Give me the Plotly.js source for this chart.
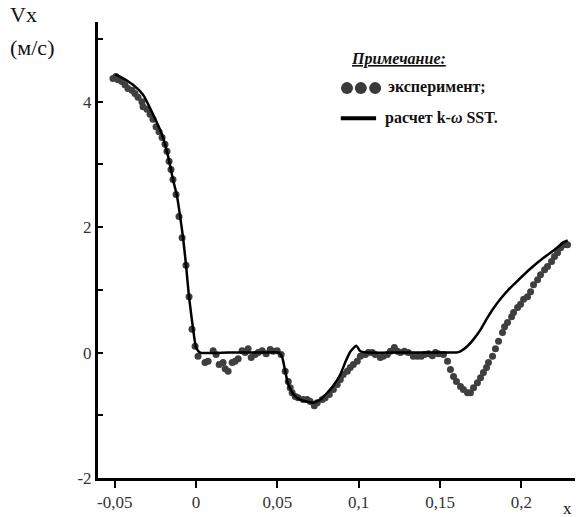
<!DOCTYPE html>
<html>
<head>
<meta charset="utf-8">
<script src="https://cdn.plot.ly/plotly-3.0.1.min.js"></script>
<style>html,body{margin:0;padding:0;background:#fff}#chart{width:577px;height:517px}</style>
</head>
<body>
<div id="chart"></div>
<script>
// Experimental points
const expX = [-0.0511,-0.0493,-0.0480,-0.0456,-0.0437,-0.0419,-0.0394,-0.0376,-0.0357,-0.0333,-0.0326,-0.0302,-0.0283,-0.0265,-0.0246,-0.0228,-0.0209,-0.0191,-0.0179,-0.0166,-0.0154,-0.0142,-0.0123,-0.0105,-0.0086,-0.0062,-0.0043,-0.0025,-0.0006,0.0012,
0.0055,0.0074,0.0105,0.0123,0.0142,0.0166,0.0179,0.0197,0.0222,0.0240,0.0259,0.0283,0.0302,0.0320,0.0339,0.0363,0.0382,0.0406,0.0431,0.0456,0.0474,0.0499,0.0523,
0.0548,0.0567,0.0579,0.0591,0.0610,0.0628,0.0659,0.0683,0.0702,0.0727,0.0745,0.0776,0.0794,0.0819,0.0844,0.0868,0.0887,0.0905,0.0930,0.0948,0.0967,0.0991,0.1010,0.1041,0.1059,
0.1084,0.1102,0.1133,0.1151,0.1176,0.1195,0.1219,0.1238,0.1256,0.1281,0.1305,0.1336,0.1361,0.1385,0.1404,0.1429,0.1453,0.1472,0.1490,0.1521,
0.1546,0.1564,0.1583,0.1601,0.1626,0.1644,0.1669,0.1687,0.1706,0.1730,0.1749,0.1767,0.1786,0.1798,0.1823,0.1841,0.1860,0.1884,0.1897,0.1915,0.1940,0.1952,0.1977,0.1995,0.2014,0.2038,0.2057,0.2075,0.2100,0.2118,0.2143,0.2161,0.2186,0.2204,0.2223,0.2241,0.2260,0.2284];
const expY = [4.37,4.40,4.35,4.32,4.27,4.21,4.18,4.13,4.07,4.00,3.92,3.88,3.80,3.72,3.60,3.52,3.43,3.32,3.21,3.05,2.92,2.76,2.52,2.17,1.83,1.39,0.89,0.37,0.10,-0.06,
-0.16,-0.14,0.03,-0.03,-0.19,-0.16,-0.26,-0.30,-0.16,-0.14,-0.10,0.03,0.00,0.06,-0.08,-0.03,0.00,0.03,-0.02,0.05,0.02,0.03,-0.03,
-0.30,-0.46,-0.56,-0.64,-0.70,-0.72,-0.75,-0.75,-0.78,-0.85,-0.80,-0.75,-0.72,-0.67,-0.59,-0.51,-0.43,-0.35,-0.30,-0.24,-0.19,-0.14,-0.06,-0.03,0.00,
0.00,-0.03,-0.08,-0.06,-0.03,0.02,0.08,0.02,0.00,0.02,0.00,-0.06,-0.06,-0.06,-0.03,-0.02,-0.05,0.00,-0.02,-0.03,
-0.14,-0.27,-0.38,-0.46,-0.54,-0.59,-0.64,-0.64,-0.56,-0.48,-0.40,-0.32,-0.24,-0.16,-0.06,0.06,0.18,0.32,0.41,0.48,0.57,0.64,0.72,0.77,0.85,0.89,0.97,1.08,1.16,1.24,1.32,1.37,1.45,1.53,1.59,1.67,1.72,1.72];

// k-omega SST computation
const sstX = [-0.0499,-0.0468,-0.0388,-0.0326,-0.0265,-0.0210,-0.0172,-0.0142,-0.0117,-0.0098,-0.0080,-0.0062,-0.0043,-0.0018,0.0000,0.0025,0.0200,0.0400,0.0510,0.0530,0.0550,0.0567,0.0600,0.0640,0.0720,0.0770,0.0840,0.0887,0.0920,0.0950,0.0985,0.1010,0.1050,0.1300,0.1550,0.1600,0.1626,0.1668,0.1706,0.1750,0.1790,0.1830,0.1870,0.1920,0.1975,0.2057,0.2137,0.2220,0.2260,0.2285];
const sstY = [4.43,4.40,4.27,4.11,3.80,3.48,3.13,2.76,2.49,2.17,1.83,1.40,0.88,0.37,0.08,0.00,0.00,0.00,0.00,-0.08,-0.32,-0.51,-0.67,-0.75,-0.80,-0.74,-0.54,-0.35,-0.14,0.02,0.11,0.02,0.00,0.00,0.00,0.00,0.02,0.10,0.21,0.37,0.55,0.71,0.85,1.00,1.14,1.34,1.51,1.67,1.76,1.79];

const xTickVals = [-0.05,0,0.05,0.1,0.15,0.2];
const xTickText = ['-0,05','0','0,05','0,1','0,15','0,2'];
const yTickVals = [-2,-1,0,1,2,3,4,5];
const yTickText = ['-2','','0','','2','','4',''];

const FONT = '"Liberation Serif", serif';

const traces = [
  {x: expX, y: expY, type: 'scatter', mode: 'markers',
   marker: {color: '#3f3f3f', size: 7}, showlegend: false, cliponaxis: false},
  {x: sstX, y: sstY, type: 'scatter', mode: 'lines',
   line: {color: '#000', width: 2.5, shape: 'spline', smoothing: 0.5}, showlegend: false}
];

function dot(xp){
  return {type:'circle', xref:'paper', yref:'paper', xsizemode:'pixel', ysizemode:'pixel',
    xanchor:xp, yanchor:0.855, x0:-6, x1:6, y0:-6, y1:6,
    fillcolor:'#3a3a3a', line:{width:0}};
}

const layout = {
  width: 577, height: 517,
  margin: {l: 98, r: 2, t: 22, b: 39},
  paper_bgcolor: '#fff', plot_bgcolor: '#fff',
  font: {family: FONT, color: '#222', size: 16},
  showlegend: false,
  xaxis: {range: [-0.0603, 0.233], showgrid: false, zeroline: false,
    showline: true, linecolor: '#000', linewidth: 3,
    ticks: 'outside', ticklen: 7, tickwidth: 2, tickcolor: '#000',
    tickvals: xTickVals, ticktext: xTickText, tickfont: {family: FONT, size: 17, color: '#333'}},
  yaxis: {range: [-2, 5.27], showgrid: false, zeroline: false,
    showline: true, linecolor: '#000', linewidth: 3,
    ticks: 'inside', ticklen: 5, tickwidth: 2, tickcolor: '#000',
    tickvals: yTickVals, ticktext: yTickText, tickfont: {family: FONT, size: 17, color: '#333'}},
  shapes: [
    dot(0.522), dot(0.551), dot(0.581),
    {type:'line', xref:'paper', yref:'paper', x0:0.509, x1:0.583, y0:0.789, y1:0.789,
     line:{color:'#000', width:4}}
  ],
  annotations: [
    {xref:'paper', yref:'paper', x:-0.189, y:1.017, xanchor:'left', yanchor:'middle', showarrow:false,
     text:'Vx', font:{family:FONT, size:22, color:'#111'}},
    {xref:'paper', yref:'paper', x:-0.189, y:0.943, xanchor:'left', yanchor:'middle', showarrow:false,
     text:'(м/с)', font:{family:FONT, size:22, color:'#111'}},
    {xref:'paper', yref:'paper', x:0.985, y:-0.066, xanchor:'center', yanchor:'middle', showarrow:false,
     text:'x', font:{family:FONT, size:17, color:'#111'}},
    {xref:'paper', yref:'paper', x:0.527, y:0.919, xanchor:'left', yanchor:'middle', showarrow:false,
     text:'<b><i><u>Примечание:</u></i></b>', font:{family:FONT, size:16, color:'#111'}},
    {xref:'paper', yref:'paper', x:0.604, y:0.857, xanchor:'left', yanchor:'middle', showarrow:false,
     text:'<b>эксперимент;</b>', font:{family:FONT, size:16, color:'#111'}},
    {xref:'paper', yref:'paper', x:0.598, y:0.789, xanchor:'left', yanchor:'middle', showarrow:false,
     text:'<b>расчет k-<i>ω</i> SST.</b>', font:{family:FONT, size:16, color:'#111'}}
  ]
};

Plotly.newPlot('chart', traces, layout, {displayModeBar: false, staticPlot: true});
</script>
</body>
</html>
